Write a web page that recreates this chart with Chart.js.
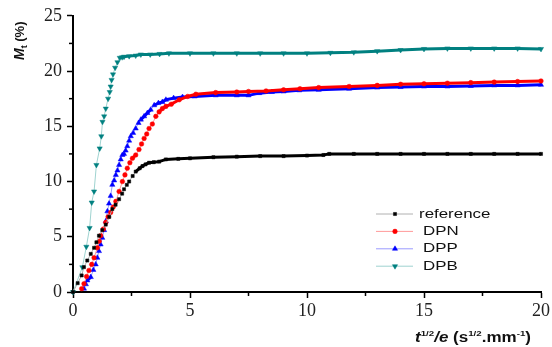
<!DOCTYPE html>
<html>
<head>
<meta charset="utf-8">
<script src="https://cdn.jsdelivr.net/npm/chart.js"></script>
<style>
  body { margin: 0; background: #fff; }
</style>
</head>
<body>
<canvas id="myChart" width="552" height="347"></canvas>
<script>
// values
const refX = [0, 0.2, 0.37, 0.47, 0.61, 0.76, 0.9, 1.0, 1.11, 1.25, 1.4, 1.55, 1.68, 1.82, 1.97, 2.1, 2.18, 2.3, 2.4, 2.55, 2.68, 2.85, 2.97, 3.1, 3.25, 3.45, 3.68, 3.97, 4.5, 5, 6, 7, 8, 9, 10, 10.7, 10.95, 12, 13, 14, 15, 16, 17, 18, 19, 20];
const refY = [0, 0.8, 1.5, 2.25, 2.85, 3.45, 4.0, 4.5, 5.1, 5.6, 6.1, 6.8, 7.5, 7.9, 8.4, 8.9, 9.3, 9.7, 10.0, 10.5, 10.9, 11.2, 11.4, 11.55, 11.7, 11.75, 11.8, 12.0, 12.05, 12.1, 12.2, 12.25, 12.3, 12.3, 12.35, 12.4, 12.5, 12.5, 12.5, 12.5, 12.5, 12.5, 12.5, 12.5, 12.5, 12.5];

const dpnX = [0.37, 0.47, 0.58, 0.68, 0.8, 0.9, 1.04, 1.12, 1.18, 1.3, 1.4, 1.5, 1.61, 1.72, 1.83, 1.97, 2.11, 2.22, 2.32, 2.43, 2.54, 2.68, 2.82, 2.93, 3.04, 3.15, 3.25, 3.39, 3.54, 3.68, 3.82, 3.97, 4.2, 4.54, 4.9, 5.25, 6.1, 7, 7.5, 8.25, 9, 9.7, 10.5, 11.8, 13, 14, 15, 16, 17, 18, 19, 20];
const dpnY = [0.3, 0.75, 1.4, 1.95, 2.5, 3.1, 4.0, 4.6, 5.1, 5.7, 6.3, 6.8, 7.2, 7.7, 8.2, 9.1, 10.0, 10.6, 11.2, 11.7, 12.1, 12.4, 12.9, 13.4, 13.9, 14.3, 14.8, 15.2, 15.9, 16.3, 16.6, 16.8, 17.0, 17.4, 17.7, 17.9, 18.05, 18.1, 18.15, 18.2, 18.3, 18.4, 18.5, 18.6, 18.7, 18.8, 18.85, 18.9, 18.95, 19.0, 19.05, 19.1];

const dppX = [0.47, 0.55, 0.61, 0.76, 0.87, 0.97, 1.04, 1.11, 1.18, 1.25, 1.33, 1.4, 1.47, 1.54, 1.61, 1.68, 1.76, 1.83, 1.9, 1.97, 2.04, 2.11, 2.18, 2.25, 2.32, 2.4, 2.47, 2.57, 2.68, 2.8, 2.9, 3.04, 3.18, 3.32, 3.47, 3.65, 3.82, 3.97, 4.3, 4.68, 5.2, 6.1, 7, 7.5, 7.96, 8.5, 9, 9.67, 10.5, 11.8, 13, 14, 15, 16, 17, 18, 19, 20];
const dppY = [0.3, 0.7, 1.05, 1.35, 2.0, 2.5, 3.1, 3.7, 4.3, 4.9, 5.6, 6.4, 7.3, 8.0, 8.7, 9.7, 10.1, 10.6, 11.0, 11.5, 12.0, 12.4, 12.5, 12.8, 13.2, 13.7, 14.1, 14.4, 14.8, 15.3, 15.6, 15.9, 16.2, 16.5, 16.9, 17.1, 17.2, 17.4, 17.55, 17.65, 17.7, 17.8, 17.8, 17.8, 18.0, 18.1, 18.15, 18.25, 18.3, 18.4, 18.5, 18.55, 18.6, 18.6, 18.65, 18.7, 18.7, 18.75];

const dpbX = [0, 0.4, 0.57, 0.71, 0.8, 0.9, 1.0, 1.14, 1.21, 1.26, 1.33, 1.4, 1.5, 1.57, 1.61, 1.65, 1.71, 1.8, 1.9, 2.0, 2.1, 2.18, 2.4, 2.68, 2.9, 3.3, 3.7, 4.1, 5, 6, 7, 8, 9, 10, 11, 12, 13, 14, 15, 16, 17, 18, 19, 20];
const dpbY = [0, 2.24, 4.1, 5.8, 8.1, 9.1, 11.5, 13.0, 14.1, 15.4, 15.9, 16.6, 17.5, 18.1, 18.6, 19.2, 19.7, 20.3, 20.8, 21.2, 21.25, 21.3, 21.35, 21.4, 21.5, 21.5, 21.55, 21.6, 21.6, 21.6, 21.6, 21.6, 21.6, 21.6, 21.65, 21.7, 21.8, 21.9, 22.0, 22.05, 22.05, 22.05, 22.05, 22.0];

const xTicks = [0, 5, 10, 15, 20];
const yTicks = [0, 5, 10, 15, 20, 25];
const xMinor = [2.5, 7.5, 12.5, 17.5];
const yMinor = [2.5, 7.5, 12.5, 17.5, 22.5];

const pts = (xs, ys) => xs.map((x, i) => ({ x: x, y: ys[i] }));

// steep parts show the thin pale connecting line, flat parts look like a packed row of markers
const steep = (c) => Math.abs(c.p1.y - c.p0.y) > 1.2 * Math.abs(c.p1.x - c.p0.x);

const makeSet = (label, xs, ys, dark, light, style, radius, rotation) => ({
  label: label,
  data: pts(xs, ys),
  lightColor: light,
  borderColor: dark,
  backgroundColor: dark,
  pointBackgroundColor: dark,
  pointBorderColor: dark,
  pointBorderWidth: 0.5,
  pointStyle: style,
  pointRadius: radius,
  pointRotation: rotation,
  borderWidth: 1,
  clip: false,
  segment: {
    borderColor: (c) => (steep(c) ? light : dark),
    borderWidth: (c) => (steep(c) ? 1 : 3),
  },
});

const titles = {
  id: "titles",
  afterDraw(chart) {
    const ctx = chart.ctx;
    const { x, y } = chart.scales;
    ctx.save();
    ctx.strokeStyle = "#000";
    ctx.lineWidth = 1.5;
    // minor ticks
    xMinor.forEach((v) => {
      const px = x.getPixelForValue(v);
      ctx.beginPath();
      ctx.moveTo(px, chart.chartArea.bottom);
      ctx.lineTo(px, chart.chartArea.bottom + 4);
      ctx.stroke();
    });
    yMinor.forEach((v) => {
      const py = y.getPixelForValue(v);
      ctx.beginPath();
      ctx.moveTo(chart.chartArea.left, py);
      ctx.lineTo(chart.chartArea.left - 4, py);
      ctx.stroke();
    });

    // legend: pale line sample with marker, then the label
    chart.data.datasets.forEach((ds, i) => {
      const ly = 214 + i * 17.4;
      ctx.strokeStyle = ds.lightColor;
      ctx.lineWidth = 1;
      ctx.beginPath();
      ctx.moveTo(376, ly);
      ctx.lineTo(413, ly);
      ctx.stroke();
      ctx.fillStyle = ds.pointBackgroundColor;
      ctx.strokeStyle = ds.pointBorderColor;
      ctx.lineWidth = 0.5;
      Chart.helpers.drawPoint(ctx, { pointStyle: ds.pointStyle, radius: ds.pointRadius, rotation: ds.pointRotation, borderWidth: 0.5 }, 395, ly);
      ctx.save();
      ctx.translate(i === 0 ? 419 : 423, ly);
      ctx.scale(1.3, 1);
      ctx.fillStyle = "#111";
      ctx.font = "13px 'Liberation Sans', Arial, sans-serif";
      ctx.textBaseline = "middle";
      ctx.fillText(ds.label, 0, 0);
      ctx.restore();
    });

    // y title: M_t (%)
    ctx.save();
    ctx.translate(24, 60);
    ctx.rotate(-Math.PI / 2);
    ctx.fillStyle = "#111";
    ctx.textBaseline = "alphabetic";
    let cx = 0;
    ctx.font = "italic bold 14px 'Liberation Sans', Arial, sans-serif";
    ctx.fillText("M", cx, 0);
    cx += ctx.measureText("M").width;
    ctx.font = "bold 9px 'Liberation Sans', Arial, sans-serif";
    ctx.fillText("t", cx, 3);
    cx += ctx.measureText("t").width;
    ctx.font = "bold 13px 'Liberation Sans', Arial, sans-serif";
    ctx.fillText(" (%)", cx, 0);
    ctx.restore();

    // x title: t^1/2/e (s^1/2.mm^-1)
    const parts = [
      ["t", "italic bold 14px", 0],
      ["1/2", "bold 8px", -6],
      ["/", "italic bold 14px", 0],
      ["e", "italic bold 14px", 0],
      [" (s", "bold 14px", 0],
      ["1/2", "bold 8px", -6],
      [".mm", "bold 14px", 0],
      ["-1", "bold 8px", -6],
      [")", "bold 14px", 0],
    ];
    const fam = " 'Liberation Sans', Arial, sans-serif";
    let w = 0;
    parts.forEach((p) => {
      ctx.font = p[1] + fam;
      w += ctx.measureText(p[0]).width;
    });
    ctx.save();
    ctx.translate(415, 342);
    ctx.scale(116 / w, 1);
    ctx.fillStyle = "#111";
    let px = 0;
    parts.forEach((p) => {
      ctx.font = p[1] + fam;
      ctx.fillText(p[0], px, p[2]);
      px += ctx.measureText(p[0]).width;
    });
    ctx.restore();
    ctx.restore();
  },
};

const tickFont = { family: "'Liberation Serif', 'Times New Roman', serif", size: 18 };

const config = {
  type: "line",
  data: {
    datasets: [
      makeSet("reference", refX, refY, "#000000", "#b0b0b0", "rect", 2.2, 0),
      makeSet("DPN", dpnX, dpnY, "#ff0000", "#ff9a9a", "circle", 2.3, 0),
      makeSet("DPP", dppX, dppY, "#0000ff", "#9a9aff", "triangle", 3, 0),
      makeSet("DPB", dpbX, dpbY, "#008080", "#9fd3d0", "triangle", 3, 180),
    ],
  },
  options: {
    responsive: false,
    animation: false,
    layout: { padding: { top: 13, right: 11, left: 0, bottom: 0 } },
    plugins: {
      legend: { display: false },
      tooltip: { enabled: false },
    },
    scales: {
      x: {
        type: "linear",
        min: 0,
        max: 20,
        afterBuildTicks: (s) => { s.ticks = xTicks.map((v) => ({ value: v })); },
        afterFit: (s) => { s.height = 55; },
        border: { display: true, color: "#000", width: 2 },
        grid: { drawOnChartArea: false, drawTicks: true, tickLength: 6, tickWidth: 1.5, tickColor: "#000" },
        ticks: { font: tickFont, color: "#222", padding: 2, maxRotation: 0 },
      },
      y: {
        type: "linear",
        min: 0,
        max: 25,
        afterBuildTicks: (s) => { s.ticks = yTicks.map((v) => ({ value: v })); },
        afterFit: (s) => { s.width = 73; },
        border: { display: true, color: "#000", width: 2 },
        grid: { drawOnChartArea: false, drawTicks: true, tickLength: 6, tickWidth: 1.5, tickColor: "#000" },
        ticks: { font: tickFont, color: "#222", padding: 5 },
      },
    },
  },
  plugins: [titles],
};

window.addEventListener("DOMContentLoaded", () => {
  new Chart(document.getElementById("myChart"), config);
});
</script>
</body>
</html>
